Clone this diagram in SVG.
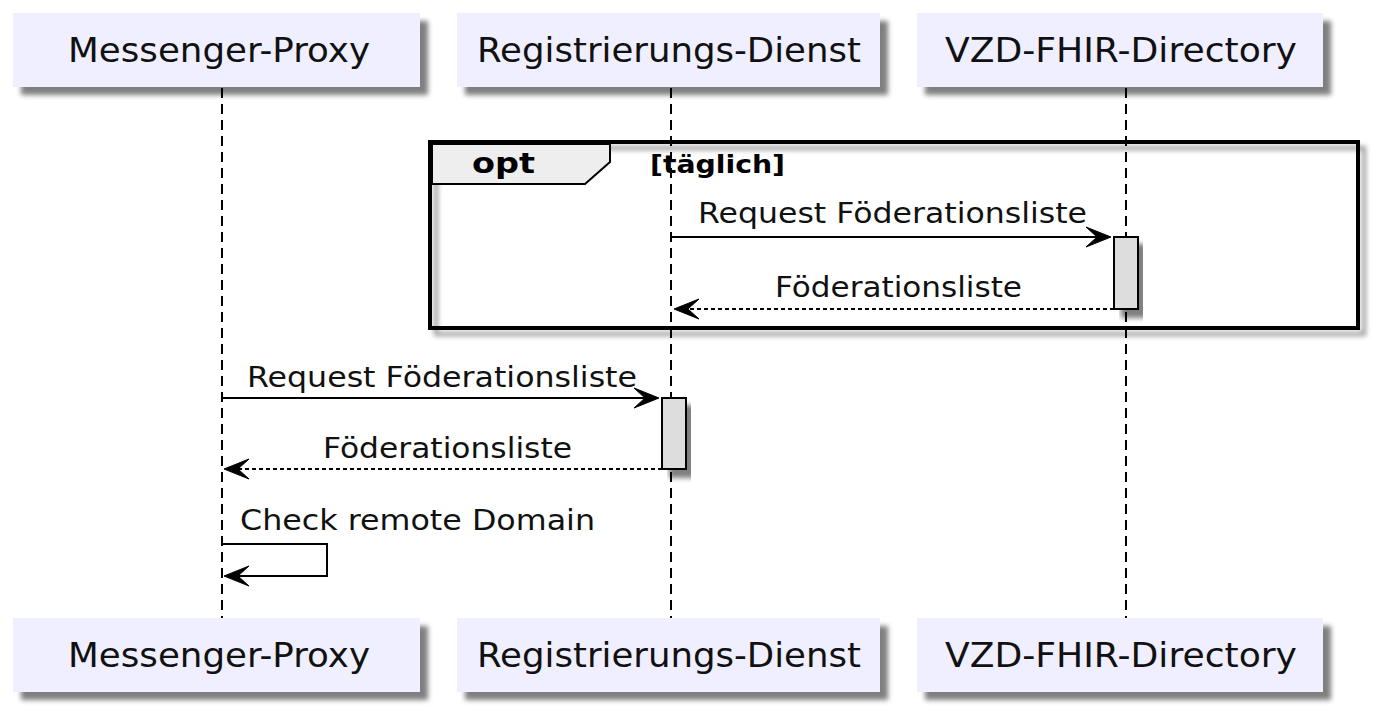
<svg xmlns="http://www.w3.org/2000/svg" width="1391" height="725" viewBox="0 0 1391 725">
<defs>
<filter id="sh" x="-10%" y="-10%" width="130%" height="140%">
<feGaussianBlur in="SourceAlpha" stdDeviation="2.5" result="b"/>
<feOffset in="b" dx="8" dy="8" result="o"/>
<feFlood flood-color="#000" flood-opacity="0.5"/>
<feComposite in2="o" operator="in" result="s"/>
<feMerge><feMergeNode in="s"/><feMergeNode in="SourceGraphic"/></feMerge>
</filter>
<filter id="shf" x="-5%" y="-5%" width="110%" height="120%">
<feGaussianBlur in="SourceAlpha" stdDeviation="2.5" result="b"/>
<feOffset in="b" dx="6" dy="6" result="o"/>
<feFlood flood-color="#000" flood-opacity="0.4"/>
<feComposite in2="o" operator="in" result="s"/>
<feMerge><feMergeNode in="s"/><feMergeNode in="SourceGraphic"/></feMerge>
</filter>
</defs>
<style>
.part{fill:#EFEFFF;filter:url(#sh)}
.pt{font-family:"DejaVu Sans",sans-serif;font-size:34px;fill:#111}
.life{stroke:#000;stroke-width:2;stroke-dasharray:10,6;fill:none}
.msg{stroke:#000;stroke-width:2;fill:none}
.ret{stroke:#000;stroke-width:2;stroke-dasharray:4,3;fill:none}
.mt{font-family:"DejaVu Sans",sans-serif;font-size:28px;fill:#111}
.act{fill:#DDDDDD;stroke:#000;stroke-width:2;filter:url(#sh)}
.ah{fill:#000;stroke:#000;stroke-width:1}
.bt{font-family:"DejaVu Sans",sans-serif;font-weight:bold;fill:#000}
</style>
<rect width="1391" height="725" fill="#fff"/>
<g id="lifelines">
<line class="life" x1="222" y1="88" x2="222" y2="618"/>
<line class="life" x1="671" y1="88" x2="671" y2="618"/>
<line class="life" x1="1126" y1="88" x2="1126" y2="618"/>
</g>
<g id="opt-frame">
<rect x="430" y="142" width="928" height="186" fill="none" stroke="#000" stroke-width="4" filter="url(#shf)"/>
<path d="M432,144 H610 V162 L585,184 H432 Z" fill="#EEEEEE" stroke="#000" stroke-width="2"/>
<text class="bt" x="472" y="173" font-size="29" textLength="63" lengthAdjust="spacingAndGlyphs">opt</text>
<text class="bt" x="650" y="173" font-size="24" textLength="135" lengthAdjust="spacingAndGlyphs">[täglich]</text>
</g>
<g id="participant-messenger-proxy">
<rect class="part" x="13" y="13" width="407" height="74"/>
<text class="pt" x="68" y="62" textLength="302" lengthAdjust="spacingAndGlyphs">Messenger-Proxy</text>
<rect class="part" x="13" y="618" width="407" height="74"/>
<text class="pt" x="68" y="667" textLength="302" lengthAdjust="spacingAndGlyphs">Messenger-Proxy</text>
</g>
<g id="participant-registrierungs-dienst">
<rect class="part" x="457" y="13" width="423" height="74"/>
<text class="pt" x="477" y="62" textLength="384" lengthAdjust="spacingAndGlyphs">Registrierungs-Dienst</text>
<rect class="part" x="457" y="618" width="423" height="74"/>
<text class="pt" x="477" y="667" textLength="384" lengthAdjust="spacingAndGlyphs">Registrierungs-Dienst</text>
</g>
<g id="participant-vzd-fhir-directory">
<rect class="part" x="917" y="13" width="406" height="74"/>
<text class="pt" x="945" y="62" textLength="352" lengthAdjust="spacingAndGlyphs">VZD-FHIR-Directory</text>
<rect class="part" x="917" y="618" width="406" height="74"/>
<text class="pt" x="945" y="667" textLength="352" lengthAdjust="spacingAndGlyphs">VZD-FHIR-Directory</text>
</g>
<g id="activations">
<rect class="act" x="1114" y="237" width="24" height="72"/>
<rect class="act" x="662" y="398" width="24" height="71"/>
</g>
<g id="connectors">
<line class="msg" x1="671" y1="237" x2="1100" y2="237"/>
<polygon class="ah" points="1111,237 1086,227 1097,237 1086,247"/>
<text class="mt" x="698" y="223" textLength="389" lengthAdjust="spacingAndGlyphs">Request Föderationsliste</text>
<line class="ret" x1="1114" y1="309" x2="684" y2="309"/>
<polygon class="ah" points="674,309 699,299 688,309 699,319"/>
<text class="mt" x="775" y="297" textLength="247" lengthAdjust="spacingAndGlyphs">Föderationsliste</text>
<line class="msg" x1="222" y1="398" x2="648" y2="398"/>
<polygon class="ah" points="659,398 634,388 645,398 634,408"/>
<text class="mt" x="247" y="387" textLength="390" lengthAdjust="spacingAndGlyphs">Request Föderationsliste</text>
<line class="ret" x1="662" y1="469" x2="235" y2="469"/>
<polygon class="ah" points="224,469 249,459 238,469 249,479"/>
<text class="mt" x="323" y="458" textLength="249" lengthAdjust="spacingAndGlyphs">Föderationsliste</text>
<polyline class="msg" points="222,544 327,544 327,576 235,576"/>
<polygon class="ah" points="224,576 249,566 238,576 249,586"/>
<text class="mt" x="240" y="530" textLength="355" lengthAdjust="spacingAndGlyphs">Check remote Domain</text>
</g>
</svg>
